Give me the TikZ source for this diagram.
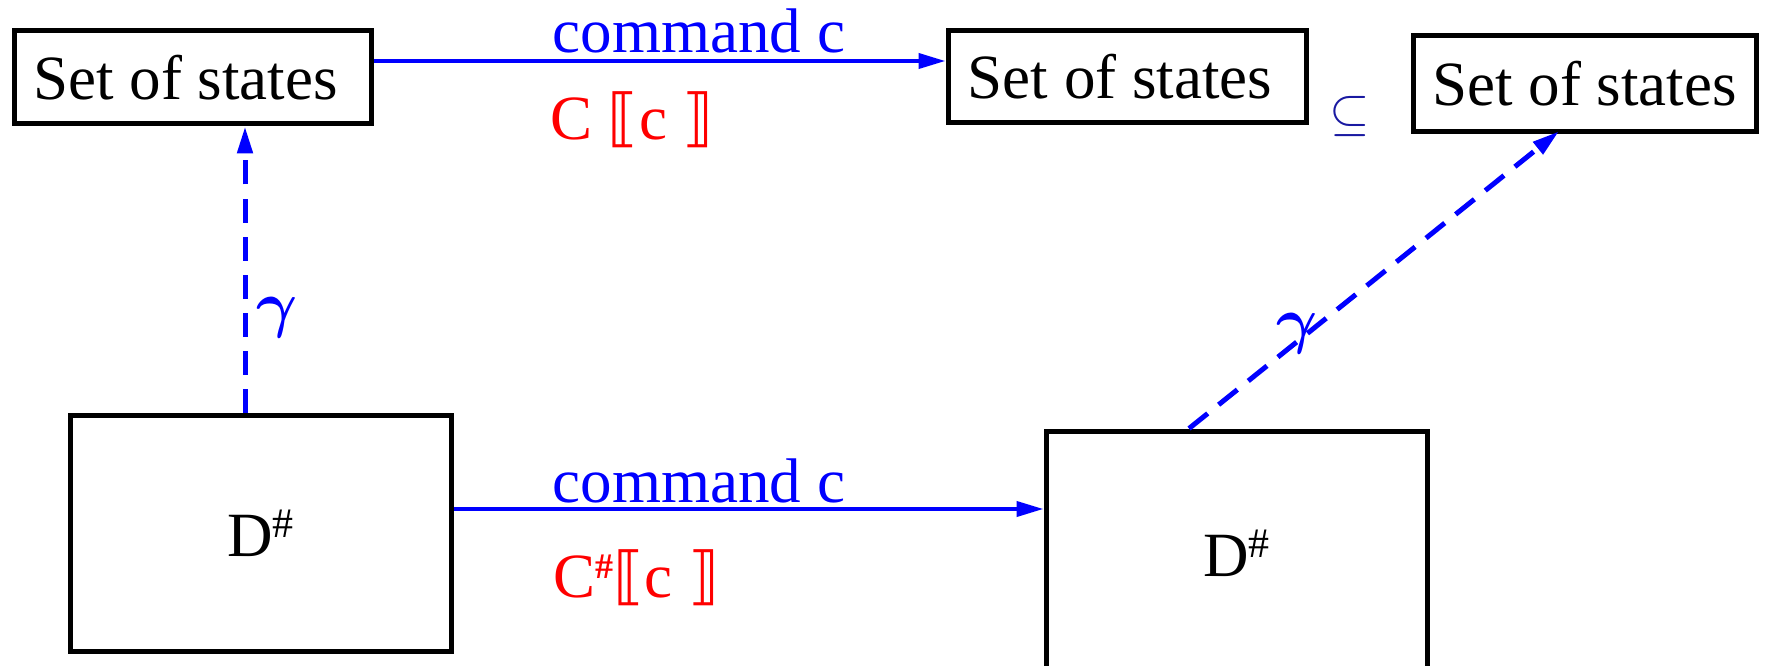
\RequirePackage{fix-cm}
\documentclass[tikz,border=0pt]{standalone}
\usepackage{fontspec}
\setmainfont{Liberation Serif}
\usepackage{bm}
\newfontfamily\djv{DejaVu Sans}
\usetikzlibrary{arrows.meta}
\definecolor{navyblue}{rgb}{0.1,0.1,0.63}
\newcommand{\dsharp}{\raisebox{19pt}{\fontsize{42}{42}\selectfont\#}}
\newcommand{\csharp}{\raisebox{19pt}{\fontsize{36}{36}\selectfont\bfseries\#}}
\begin{document}
\begin{tikzpicture}[x=1pt,y=-1pt,
  font=\fontsize{63}{70}\selectfont,
  box/.style={draw=black, line width=5pt, inner sep=0pt},
  arr/.style={blue, line width=4pt, -{Triangle[length=27pt,width=15pt]}},
  darr/.style={arr, line width=5pt, dash pattern=on 24pt off 14pt},
  lab/.style={blue, anchor=base, inner sep=0pt},
  sem/.style={red, anchor=base west, inner sep=0pt}]
\useasboundingbox (0,0) rectangle (1765,666);
\clip (0,0) rectangle (1765,666);
% boxes
\node[box, minimum width=357pt, minimum height=93pt] (s1) at (192.5,77.5) {Set of states\hspace*{14pt}};
\node[box, minimum width=358pt, minimum height=92pt] (s2) at (1127,77) {Set of states\hspace*{14pt}};
\node[box, minimum width=343pt, minimum height=96pt] (s3) at (1584.5,84) {Set of states};
\node[box, minimum width=381pt, minimum height=236pt] (d1) at (260.5,533) {D\dsharp};
\node[box, minimum width=381pt, minimum height=244pt] (d2) at (1236.5,553) {D\dsharp};
% helper coordinates
\coordinate (ytop) at (0,61);
\coordinate (ybot) at (0,509);
\coordinate (xv) at (245,0);
\coordinate (xd1) at (1189,0);
\coordinate (xd2) at (1555,0);
% connectors
\draw[arr] (s1.east |- ytop) -- (s2.west |- ytop);
\draw[arr] (d1.east |- ybot) -- (d2.west |- ybot);
\draw[darr] (xv |- d1.north) -- (xv |- s1.south);
\draw[darr, shorten >=-5pt] (xd1 |- d2.north) -- (xd2 |- s3.south);
% labels
\node[lab] (l1) at (699,53) {command c};
\node[sem] (m1) at (550,140) {C {\djv ⟦}c {\djv ⟧}};
\node[lab] (l2) at (699,502) {command c};
\node[sem] (m2) at (553,597) {C\csharp{\djv ⟦}c {\djv ⟧}};
\node[lab] (g1) at (277,325) {$\bm{\gamma}$};
\node[lab] (g2) at (1297,341) {$\bm{\gamma}$};
\node[navyblue, inner sep=0pt, font=\fontsize{52}{60}\selectfont] (sub) at (1350,117) {$\subseteq$};
\end{tikzpicture}
\end{document}
